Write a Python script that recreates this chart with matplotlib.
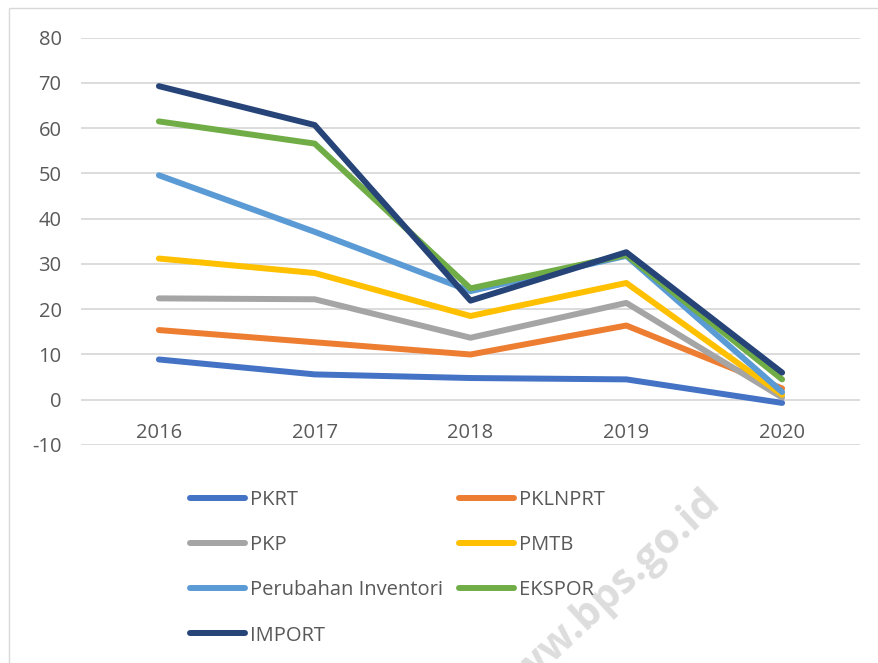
import matplotlib
matplotlib.use("Agg")
import matplotlib.pyplot as plt
from matplotlib.patches import Rectangle

years = ["2016", "2017", "2018", "2019", "2020"]
pkrt = [8.9, 5.6, 4.8, 4.5, -0.7]
pklnprt = [15.4, 12.7, 10.0, 16.4, 2.5]
pkp = [22.4, 22.2, 13.7, 21.4, 0.5]
pmtb = [31.2, 28.0, 18.5, 25.8, 1.1]
inventori = [49.6, 37.1, 24.0, 31.8, 1.7]
ekspor = [61.5, 56.6, 24.6, 32.0, 4.5]
impor = [69.3, 60.7, 21.9, 32.6, 6.0]

series = [
    ("PKRT", pkrt, "#4472C4"),
    ("PKLNPRT", pklnprt, "#ED7D31"),
    ("PKP", pkp, "#A5A5A5"),
    ("PMTB", pmtb, "#FFC000"),
    ("Perubahan Inventori", inventori, "#5B9BD5"),
    ("EKSPOR", ekspor, "#70AD47"),
    ("IMPORT", impor, "#264478"),
]

plt.rcParams['font.family'] = ['Open Sans', 'DejaVu Sans']
plt.rcParams['axes.unicode_minus'] = False
W, H = 879, 663
fig = plt.figure(figsize=(W / 100, H / 100), dpi=100)
ax = fig.add_axes([81 / W, 1 - 445 / H, (860 - 81) / W, (445 - 37.7) / H])

x = list(range(len(years)))
for name, vals, col in series:
    ax.plot(x, vals, color=col, lw=4.3, label=name, solid_capstyle='round',
            solid_joinstyle='round')

ax.set_xlim(-0.5, len(years) - 0.5)
ax.set_ylim(-10, 80)
ax.set_yticks(range(-10, 81, 10))
ax.yaxis.grid(True, color='#D9D9D9', lw=1.3)
ax.set_axisbelow(True)
for s in ax.spines.values():
    s.set_visible(False)
ax.spines['bottom'].set_position(('data', 0))
ax.set_xticks(x)
ax.set_xticklabels(years)
ax.tick_params(axis='both', length=0, labelsize=14.5, labelcolor='#595959')
ax.tick_params(axis='x', pad=17)
ax.tick_params(axis='y', pad=14)

handles, labels = ax.get_legend_handles_labels()
order = [0, 2, 4, 6, 1, 3, 5]
leg = fig.legend([handles[i] for i in order], [labels[i] for i in order], ncol=2,
                 loc='upper left', bbox_to_anchor=(190 / W, 1 - 490 / H), frameon=False,
                 fontsize=14.5, handlelength=2.75, handletextpad=0.25,
                 columnspacing=0.75, labelspacing=1.25, borderpad=0,
                 borderaxespad=0)
for t in leg.get_texts():
    t.set_color('#595959')

fig.text(722 / W, 1 - 505 / H, "www.bps.go.id", rotation=43, rotation_mode='anchor',
         ha='right', va='baseline', fontsize=30, fontweight='bold', color='#DDDDDD',
         zorder=0)

fig.patches.append(Rectangle((9 / W, -0.1), 1.2, 1 - 8 / H + 0.1, transform=fig.transFigure,
                             fill=False, ec='#D9D9D9', lw=1))

fig.savefig("out.png", dpi=100)
